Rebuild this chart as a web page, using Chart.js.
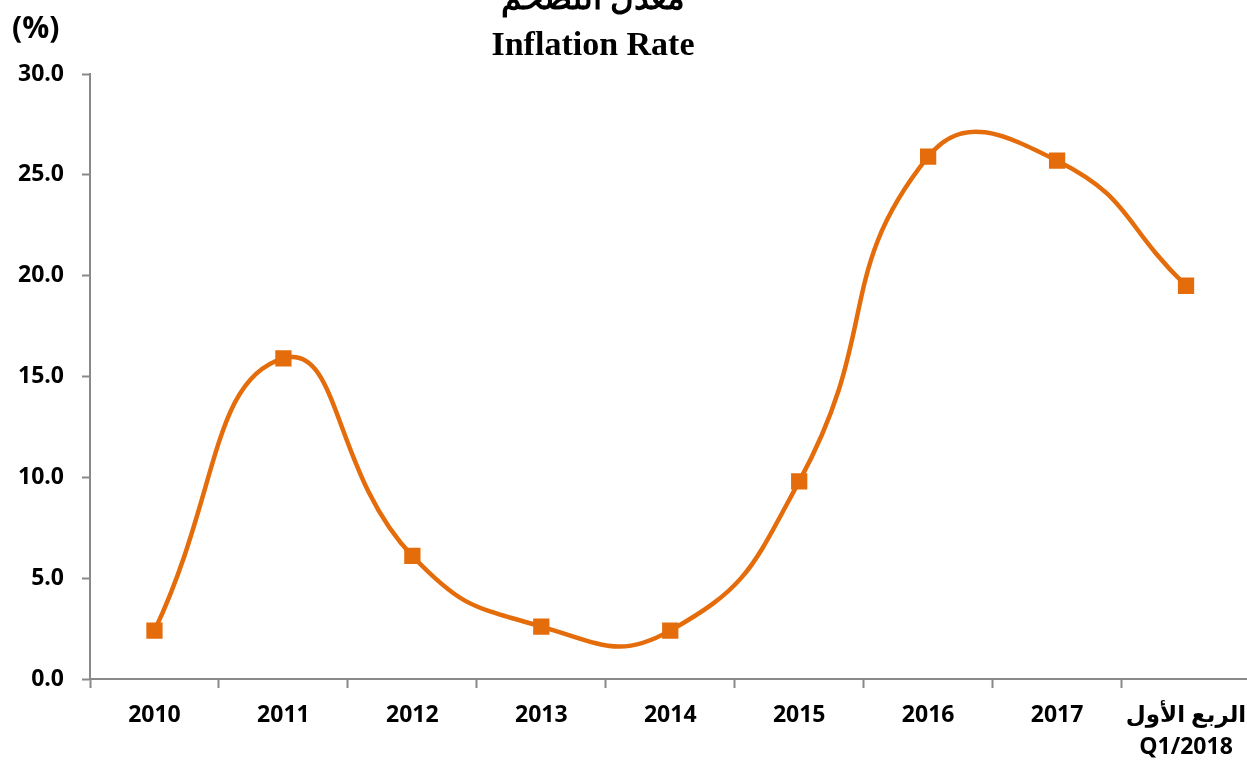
<!DOCTYPE html>
<html>
<head>
<meta charset="utf-8">
<script src="https://cdn.jsdelivr.net/npm/chart.js@4/dist/chart.umd.min.js"></script>
<style>
html,body{margin:0;padding:0;background:#fff;overflow:hidden;}
#wrap{position:relative;width:1247px;height:763px;overflow:hidden;}
</style>
</head>
<body>
<div id="wrap"><canvas id="c" width="1262" height="763"></canvas></div>
<script>
const categories = ['2010','2011','2012','2013','2014','2015','2016','2017',['الربع الأول','Q1/2018']];
const inflation = [2.4, 15.9, 6.1, 2.6, 2.4, 9.8, 25.9, 25.7, 19.5];
const yTicks = [0, 5, 10, 15, 20, 25, 30];
const titleAr = 'معدل التضخم';
const titleEn = 'Inflation Rate';
const unitLabel = '(%)';

const ORANGE = '#E46C0A';
const AXIS = '#898989';
const tickFont = {family: '"Open Sans", "DejaVu Sans", sans-serif', weight: 'bold', size: 23};

const textPlugin = {
  id: 'texts',
  afterDraw(chart) {
    const ctx = chart.ctx;
    ctx.save();
    ctx.fillStyle = '#000';
    ctx.textAlign = 'center';
    ctx.textBaseline = 'alphabetic';
    ctx.font = 'bold 33px "Liberation Serif", "DejaVu Serif", serif';
    ctx.fillText(titleAr, 593, 9);
    ctx.font = 'bold 34px "Liberation Serif", "DejaVu Serif", serif';
    ctx.fillText(titleEn, 593, 55);
    ctx.textAlign = 'left';
    ctx.font = 'bold 30px "Open Sans", sans-serif';
    ctx.fillText(unitLabel, 12, 38);
    ctx.restore();
  }
};

new Chart(document.getElementById('c'), {
  type: 'line',
  data: {
    labels: categories,
    datasets: [{
      data: inflation,
      borderColor: ORANGE,
      backgroundColor: ORANGE,
      borderWidth: 4.5,
      tension: 0.5,
      pointStyle: 'rect',
      pointRadius: 11.5,
      pointHoverRadius: 11.5,
      pointBackgroundColor: ORANGE,
      pointBorderColor: ORANGE,
      pointBorderWidth: 0,
      fill: false
    }]
  },
  options: {
    responsive: false,
    animation: false,
    events: [],
    layout: {padding: {top: 74, right: 0, left: 0, bottom: 0}},
    plugins: {legend: {display: false}, tooltip: {enabled: false}, title: {display: false}},
    scales: {
      x: {
        type: 'category',
        offset: true,
        grid: {offset: true, drawOnChartArea: false, color: AXIS, tickLength: 9, tickWidth: 2},
        border: {color: AXIS, width: 2},
        ticks: {color: '#000', font: Object.assign({lineHeight: 1.4}, tickFont), padding: 11, maxRotation: 0, autoSkip: false},
        afterFit(s) { s.height = 763 - 679; }
      },
      y: {
        min: 0, max: 30,
        afterBuildTicks(s) { s.ticks = yTicks.map(v => ({value: v})); },
        grid: {drawOnChartArea: false, color: AXIS, tickLength: 8, tickWidth: 2},
        border: {color: AXIS, width: 2},
        ticks: {color: '#000', font: tickFont, padding: 18, callback: v => Number(v).toFixed(1)},
        afterFit(s) { s.width = 90; }
      }
    }
  },
  plugins: [textPlugin]
});
</script>
</body>
</html>
